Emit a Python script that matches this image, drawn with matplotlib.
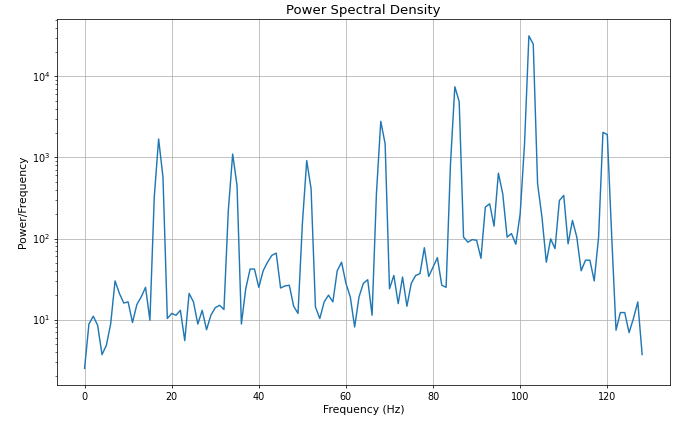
import numpy as np
import matplotlib
matplotlib.use("Agg")
import matplotlib.pyplot as plt

# frequency bins 0..128 Hz, one per Hz
freqs = np.arange(0, 129)

# power values
psd = [
    2.5, 8.8, 11, 8.5, 3.7, 4.8, 8.9, 30, 21, 16,
    16.5, 9.2, 15.3, 19, 25, 9.8, 324, 1690, 570, 10.3,
    11.9, 11.3, 13, 5.5, 21, 16.5, 8.8, 13, 7.5, 11.3,
    14, 15, 13.3, 222, 1100, 450, 8.8, 24, 42, 42,
    25, 40, 51, 62, 66, 24.5, 26, 26.5, 14.6, 11.9,
    152, 915, 410, 14.3, 10.3, 16.5, 20, 16.5, 40, 51,
    28, 19, 8.1, 19, 28, 31, 11.3, 356, 2790, 1470,
    24, 35, 15.7, 33.5, 14.6, 28, 35, 36.8, 77, 34,
    44.5, 58, 26.5, 25, 830, 7450, 4880, 104, 90, 97,
    95, 57, 244, 268, 142, 640, 356, 104, 115, 85,
    202, 1470, 31600, 25000, 472, 184, 51, 99, 75, 294,
    340, 86, 167, 104, 40, 54, 54, 30, 104, 2040,
    1915, 110, 7.4, 12.2, 12.2, 6.9, 10.3, 16.5, 3.7,
]

fig = plt.figure(figsize=(10, 428 / 68.3), dpi=68.3)
plt.subplots_adjust(left=0.083, right=0.981, bottom=0.1005, top=0.955)

plt.semilogy(freqs, psd)
plt.title("Power Spectral Density", fontsize=14)
plt.xlabel("Frequency (Hz)", fontsize=11.4)
plt.ylabel("Power/Frequency", fontsize=11.4)
plt.tick_params(labelsize=10.2)
plt.grid(True)

plt.savefig("out.png", dpi=68.3)
